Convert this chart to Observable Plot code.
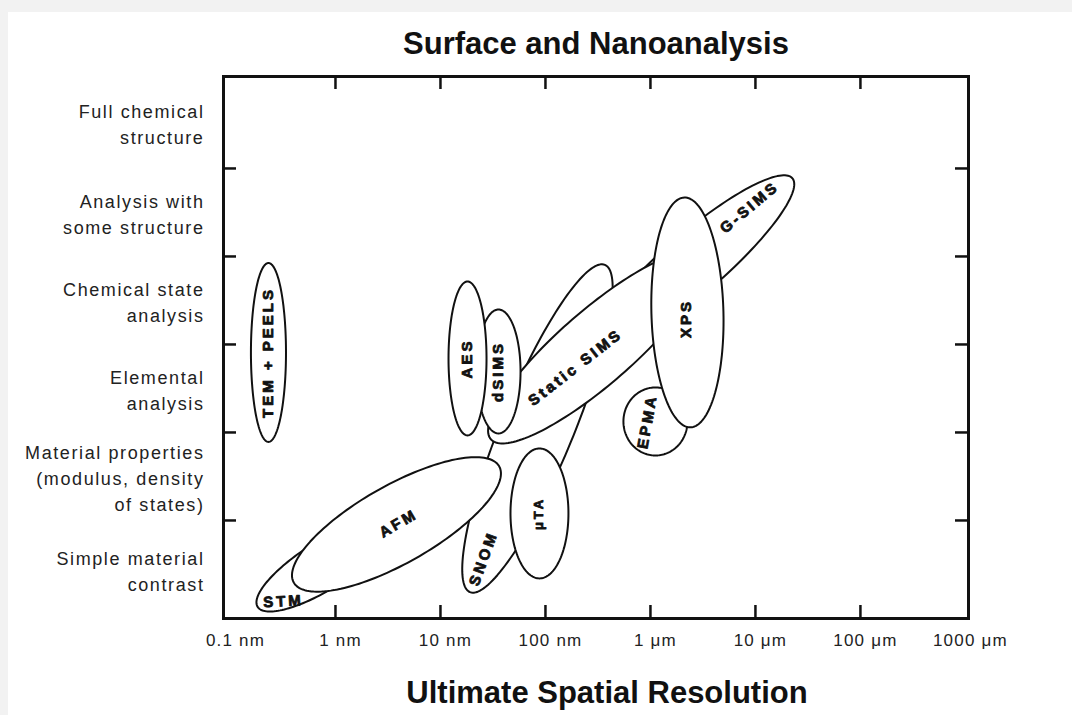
<!DOCTYPE html>
<html><head><meta charset="utf-8">
<script src="https://cdn.jsdelivr.net/npm/d3@7"></script>
<script src="https://cdn.jsdelivr.net/npm/@observablehq/plot@0.6"></script>
<style>
html,body{margin:0;padding:0;background:#f2f2f2;}
#panel{position:absolute;left:8px;top:12px;width:1064px;height:703px;background:#fff;overflow:hidden;}
#panel svg{display:block;}
</style></head><body><div id="panel"></div>
<script>
// ---------- data ----------
const title = "Surface and Nanoanalysis";
const xTitle = "Ultimate Spatial Resolution";
const categories = ["Simple material\ncontrast", "Material properties\n(modulus, density\nof states)", "Elemental\nanalysis", "Chemical state\nanalysis", "Analysis with\nsome structure", "Full chemical\nstructure"];
const levelBoundaries = [1, 2, 3, 4, 5];
const xTickValues = [0.1, 1, 10, 100, 1e3, 1e4, 1e5, 1e6]; // nm
const xTickLabels = ["0.1 nm", "1 nm", "10 nm", "100 nm", "1 μm", "10 μm", "100 μm", "1000 μm"];
const xMinorTicks = [1, 10, 100, 1e3, 1e4, 1e5];

// techniques in drawing order (later ones overlap earlier ones)
const techniques = ["TEM + PEELS", "G-SIMS", "SNOM", "Static SIMS", "STM", "AFM", "μTA", "dSIMS", "AES", "EPMA", "XPS"];
const centerRes   = [0.230, 2512, 83.9, 306, 0.803, 3.81, 87.7, 35.7, 18.1, 1116, 2250]; // nm
const centerLevel = [2.909, 3.909, 2.045, 2.966, 0.50, 0.955, 1.08, 2.693, 2.841, 2.125, 3.364];
const majorDecades = [0.852, 1.257, 1.686, 1.333, 0.762, 1.124, 0.619, 0.590, 0.733, 0.324, 1.095];
const minorDecades = [0.167, 0.286, 0.343, 0.352, 0.229, 0.371, 0.276, 0.210, 0.181, 0.305, 0.343];
const tiltDeg      = [-90, -40.8, -67.6, -41, -32, -29.5, -90, -90, -90, -90, -91.5];
const labelRes   = [0.230, 8770, 25.7, 193, 0.320, 3.98, 85.8, 35.7, 18.1, 936, 2203];
const labelLevel = [2.909, 4.557, 0.568, 2.739, 0.0795, 0.966, 1.08, 2.693, 2.841, 2.125, 3.295];
const labelAngle = [-90, -40, -70, -38, -3, -30, -90, -90, -90, -80, -90];

// ---------- layout ----------
const W = 1064, H = 703, mL = 215, mR = 104, mT = 64, mB = 97;
const xDomain = [0.0858, 1.07e6];
const yDomain = [-0.114, 6.045];
const plotW = W - mL - mR, plotH = H - mT - mB;
const kx = plotW / (Math.log10(xDomain[1]) - Math.log10(xDomain[0]));
const ky = plotH / (yDomain[1] - yDomain[0]);
const tickLen = 13;

function ellipsePoints(i) {
  const th = tiltDeg[i] * Math.PI / 180;
  const a = majorDecades[i] * kx, b = minorDecades[i] * kx;
  const lx = Math.log10(centerRes[i]);
  const pts = [];
  const N = 160;
  for (let k = 0; k < N; k++) {
    const t = 2 * Math.PI * k / N;
    const ex = a * Math.cos(t), ey = b * Math.sin(t);
    const px = ex * Math.cos(th) - ey * Math.sin(th);
    const py = ex * Math.sin(th) + ey * Math.cos(th);
    pts.push({name: techniques[i], x: Math.pow(10, lx + px / kx), y: centerLevel[i] - py / ky});
  }
  return pts;
}

const bounds = [yDomain[0], ...levelBoundaries, yDomain[1]];
const catMid = categories.map((c, i) => (bounds[i] + bounds[i + 1]) / 2);

const marks = [];
techniques.forEach((t, i) => {
  marks.push(Plot.line(ellipsePoints(i), {x: "x", y: "y", curve: "linear-closed", fill: "white", stroke: "#111", strokeWidth: 2}));
});
// technique labels
marks.push(Plot.text(techniques, {
  x: (d, i) => labelRes[i], y: (d, i) => labelLevel[i], text: d => d,
  rotate: (d, i) => labelAngle[i], fontSize: d => d === "μTA" ? 13 : 15, fontWeight: "bold",
  fill: "#111", stroke: "#111", strokeWidth: 0.8
}));
// frame & inward ticks
marks.push(Plot.frame({stroke: "#111", strokeWidth: 3}));
const xTickSpan = Math.pow(10, tickLen / kx);
marks.push(Plot.ruleX(xMinorTicks, {x: d => d, y1: yDomain[0], y2: yDomain[0] + tickLen / ky, stroke: "#111", strokeWidth: 2.5}));
marks.push(Plot.ruleX(xMinorTicks, {x: d => d, y1: yDomain[1], y2: yDomain[1] - tickLen / ky, stroke: "#111", strokeWidth: 2.5}));
marks.push(Plot.ruleY(levelBoundaries, {y: d => d, x1: xDomain[0], x2: xDomain[0] * xTickSpan, stroke: "#111", strokeWidth: 2.5}));
marks.push(Plot.ruleY(levelBoundaries, {y: d => d, x1: xDomain[1], x2: xDomain[1] / xTickSpan, stroke: "#111", strokeWidth: 2.5}));
// x tick labels
marks.push(Plot.text(xTickValues, {x: d => d, text: (d, i) => xTickLabels[i], frameAnchor: "bottom", lineAnchor: "middle", dy: 22, dx: 5, fontSize: 17, fill: "#222"}));
// category labels
marks.push(Plot.text(categories, {y: (d, i) => catMid[i], text: d => d, frameAnchor: "left", textAnchor: "end", lineAnchor: "middle", dx: -19, lineHeight: 1.45, fontSize: 18, fill: "#222"}));
// titles
marks.push(Plot.text([title], {text: d => d, frameAnchor: "top", lineAnchor: "middle", dy: -32, fontSize: 31, fontWeight: "bold", fill: "#111"}));
marks.push(Plot.text([xTitle], {text: d => d, frameAnchor: "bottom", lineAnchor: "middle", dy: 75, dx: 11, fontSize: 31, fontWeight: "bold", fill: "#111"}));

const chart = Plot.plot({
  width: W, height: H, marginLeft: mL, marginRight: mR, marginTop: mT, marginBottom: mB,
  x: {type: "log", domain: xDomain, axis: null},
  y: {domain: yDomain, axis: null},
  style: {fontFamily: "'Liberation Sans', Arial, Helvetica, sans-serif", background: "white", overflow: "visible"},
  marks
});
document.getElementById("panel").appendChild(chart);
// letter spacing tweaks for text groups
const groups = chart.querySelectorAll("g[aria-label='text']");
if (groups[0]) d3.select(groups[0]).selectAll("text").style("letter-spacing", "3px");
if (groups[1]) d3.select(groups[1]).selectAll("text").style("letter-spacing", "1.2px");
if (groups[2]) d3.select(groups[2]).selectAll("text").style("letter-spacing", "1.6px");
</script></body></html>
